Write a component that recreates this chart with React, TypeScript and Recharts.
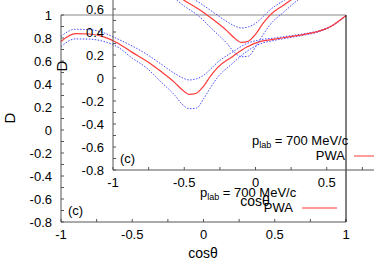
import React from 'react';
import { LineChart, Line, XAxis, YAxis } from 'recharts';

const cosTheta = [-1, -0.9, -0.8, -0.7, -0.6, -0.5, -0.4, -0.3, -0.2, -0.15, -0.1, -0.05, 0, 0.05, 0.1, 0.2, 0.3, 0.4, 0.5, 0.6, 0.7, 0.8, 0.9, 1];
const pwa = [0.77, 0.838, 0.835, 0.81, 0.755, 0.675, 0.6, 0.51, 0.41, 0.35, 0.31, 0.32, 0.38, 0.47, 0.545, 0.635, 0.72, 0.77, 0.79, 0.81, 0.83, 0.855, 0.905, 0.995];
const pwaUpper = [0.815, 0.876, 0.873, 0.845, 0.79, 0.73, 0.66, 0.575, 0.49, 0.455, 0.435, 0.445, 0.475, 0.53, 0.59, 0.675, 0.75, 0.785, 0.8, 0.818, 0.836, 0.86, 0.908, 0.998];
const pwaLower = [0.725, 0.792, 0.79, 0.77, 0.72, 0.625, 0.54, 0.42, 0.3, 0.225, 0.185, 0.19, 0.27, 0.37, 0.46, 0.575, 0.68, 0.75, 0.78, 0.802, 0.824, 0.85, 0.902, 0.992];

const xTicks = [-1, -0.75, -0.5, -0.25, 0, 0.25, 0.5, 0.75, 1];
const xLabelTicks = [-1, -0.5, 0, 0.5, 1];
const yTicks = [-0.8, -0.7, -0.6, -0.5, -0.4, -0.3, -0.2, -0.1, 0, 0.1, 0.2, 0.3, 0.4, 0.5, 0.6, 0.7, 0.8, 0.9, 1];
const yLabelTicks = [-0.8, -0.6, -0.4, -0.2, 0, 0.2, 0.4, 0.6, 0.8, 1];

const xTitle = 'cosθ';
const yTitle = 'D';
const momentumBase = 'p';
const momentumSub = 'lab';
const momentumText = ' = 700 MeV/c';
const seriesName = 'PWA';
const panelTag = '(c)';

const rows = cosTheta.map((c, i) => ({ c, pwa: pwa[i], up: pwaUpper[i], lo: pwaLower[i] }));

const FONT = '"Liberation Sans", Arial, Helvetica, sans-serif';
const RED = '#ff3a3a';
const BLUE = '#4848ff';

const has = (arr: number[], v: number) => arr.some((a) => Math.abs(a - v) < 1e-6);

const XTick = (props: any) => {
  const { x, y, payload } = props;
  if (!has(xLabelTicks, payload.value)) return <g />;
  return (
    <text x={x} y={y} dy="0.71em" textAnchor="middle" fontFamily={FONT} fontSize={13} fill="#000">
      {String(payload.value)}
    </text>
  );
};

const YTick = (props: any) => {
  const { x, y, payload } = props;
  if (!has(yLabelTicks, payload.value)) return <g />;
  return (
    <text x={x} y={y} dy="0.355em" textAnchor="end" fontFamily={FONT} fontSize={13} fill="#000">
      {String(Math.round(payload.value * 10) / 10)}
    </text>
  );
};

function Panel() {
  return (
    <LineChart width={374} height={262} data={rows} margin={{ top: 14, right: 27, left: 0, bottom: 0 }}>
      <XAxis xAxisId="b" type="number" dataKey="c" domain={[-1, 1]} ticks={xTicks} interval={0} height={40}
        tickSize={-3} tickMargin={11} stroke="#555" tick={<XTick />} />
      <XAxis xAxisId="t" orientation="top" type="number" dataKey="c" domain={[-1, 1]} ticks={xTicks} interval={0} height={1}
        tickSize={-3} stroke="#888" tick={false} />
      <YAxis yAxisId="l" type="number" domain={[-0.8, 1]} ticks={yTicks} interval={0} width={61}
        tickSize={-3} tickMargin={12} stroke="#555" tick={<YTick />} />
      <YAxis yAxisId="r" orientation="right" type="number" domain={[-0.8, 1]} ticks={yTicks} interval={0} width={1}
        tickSize={-3} stroke="#000" tick={false} />
      <Line xAxisId="b" yAxisId="l" type="monotone" dataKey="up" stroke={BLUE} strokeWidth={1} strokeDasharray="1.5 1.5" dot={false} isAnimationActive={false} />
      <Line xAxisId="b" yAxisId="l" type="monotone" dataKey="lo" stroke={BLUE} strokeWidth={1} strokeDasharray="1.5 1.5" dot={false} isAnimationActive={false} />
      <Line xAxisId="b" yAxisId="l" type="monotone" dataKey="pwa" stroke={RED} strokeWidth={1.2} dot={false} isAnimationActive={false} />
      <text x={15} y={118} transform="rotate(-90 15 118)" textAnchor="middle" fontFamily={FONT} fontSize={15} fill="#000">{yTitle}</text>
      <text x={203} y={258} textAnchor="middle" fontFamily={FONT} fontSize={14} fill="#000">{xTitle}</text>
      <text x={200} y={197} fontFamily={FONT} fontSize={13} fill="#000">
        {momentumBase}
        <tspan fontSize={9} dy={3}>{momentumSub}</tspan>
        <tspan dy={-3}>{momentumText}</tspan>
      </text>
      <text x={293} y={212} textAnchor="end" fontFamily={FONT} fontSize={13} fill="#000">{seriesName}</text>
      <line x1={302} x2={337} y1={208} y2={208} stroke={RED} strokeWidth={1.2} />
      <text x={68} y={215} fontFamily={FONT} fontSize={13} fill="#000">{panelTag}</text>
    </LineChart>
  );
}

export default function App() {
  return (
    <div style={{ position: 'absolute', left: 0, top: 0, width: 374, height: 262, overflow: 'hidden', background: '#fff', fontFamily: FONT }}>
      <div style={{ position: 'absolute', left: 0, top: 0 }}>
        <Panel />
      </div>
      <div style={{ position: 'absolute', left: 52, top: -52 }}>
        <Panel />
      </div>
    </div>
  );
}
